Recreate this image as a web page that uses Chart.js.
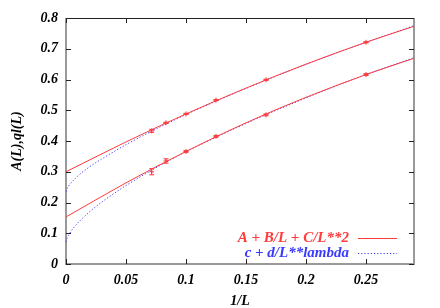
<!DOCTYPE html>
<html><head><meta charset="utf-8">
<script src="https://cdn.jsdelivr.net/npm/chart.js@4/dist/chart.umd.min.js"></script>
<style>html,body{margin:0;padding:0;background:#fff}#wrap{width:440px;height:308px}</style>
</head><body><div id="wrap"><canvas id="c" width="440" height="308"></canvas></div>
<script>
// ---- data ----
const xTickValues = [0, 0.05, 0.1, 0.15, 0.2, 0.25];
const xTickLabels = ['0', '0.05', '0.1', '0.15', '0.2', '0.25'];
const yTickValues = [0, 0.1, 0.2, 0.3, 0.4, 0.5, 0.6, 0.7, 0.8];
const yTickLabels = ['0', '0.1', '0.2', '0.3', '0.4', '0.5', '0.6', '0.7', '0.8'];

const invL = [0.25, 0.1667, 0.125, 0.1, 0.0833, 0.0714];
const upperA = [0.721, 0.599, 0.533, 0.488, 0.459, 0.433];
const upperErr = [0.002, 0.002, 0.002, 0.002, 0.002, 0.005];
const lowerQ = [0.616, 0.485, 0.415, 0.366, 0.335, 0.300];
const lowerErr = [0.003, 0.003, 0.003, 0.003, 0.007, 0.010];

const fitX = [0, 0.05, 0.1, 0.15, 0.2, 0.25, 0.29];
const fitUpper = [0.300, 0.397, 0.488, 0.572, 0.650, 0.721, 0.773];
const fitLower = [0.153, 0.264, 0.366, 0.459, 0.542, 0.616, 0.669];

const powX = [0, 0.001, 0.003, 0.006, 0.01, 0.02, 0.03, 0.05, 0.075, 0.1, 0.15, 0.2, 0.25, 0.29];
const powUpper = [0.235, 0.246, 0.258, 0.271, 0.287, 0.317, 0.342, 0.388, 0.439, 0.486, 0.571, 0.649, 0.721, 0.775];
const powLower = [0.072, 0.085, 0.099, 0.116, 0.134, 0.171, 0.202, 0.255, 0.313, 0.365, 0.457, 0.540, 0.616, 0.671];

const legendLabels = ['A + B/L + C/L**2', 'c + d/L**lambda'];
// -------------------------------------

const zip = (xs, ys) => xs.map((x, i) => ({x: x, y: ys[i]}));
const FAMILY = "'Liberation Serif','DejaVu Serif',serif";
const FONT = {family: FAMILY, size: 14, weight: 'bold', style: 'italic'};
const RED = '#ff3c3c';
const BLUE = '#3a3aff';

const fitStyle = {type: 'line', borderColor: RED, borderWidth: 1, pointRadius: 0, fill: false, cubicInterpolationMode: 'monotone'};
const powStyle = {type: 'line', borderColor: BLUE, borderWidth: 1, borderDash: [1.2, 2], pointRadius: 0, fill: false, cubicInterpolationMode: 'monotone', clip: 2};
const ptStyle = {type: 'scatter', borderColor: RED, backgroundColor: RED, pointStyle: 'cross', pointRadius: 2.5, borderWidth: 1, showLine: false};

const framePlugin = {
  id: 'frame',
  beforeDatasetsDraw(chart) {
    const {ctx, chartArea: a, scales: {x, y}} = chart;
    ctx.save();
    ctx.strokeStyle = '#999';
    ctx.lineWidth = 2;
    ctx.beginPath();
    ctx.moveTo(a.left, a.top); ctx.lineTo(a.left, a.bottom); ctx.lineTo(a.right, a.bottom); ctx.lineTo(a.right, a.top);
    ctx.stroke();
    ctx.strokeStyle = '#222';
    ctx.lineWidth = 1;
    ctx.beginPath();
    ctx.moveTo(a.left, Math.round(a.top) + 0.5); ctx.lineTo(a.right, Math.round(a.top) + 0.5);
    xTickValues.forEach(v => {
      const px = Math.round(x.getPixelForValue(v)) + 0.5;
      ctx.moveTo(px, a.bottom); ctx.lineTo(px, a.bottom - 5);
      ctx.moveTo(px, a.top); ctx.lineTo(px, a.top + 5);
    });
    yTickValues.forEach(v => {
      const py = Math.round(y.getPixelForValue(v)) + 0.5;
      ctx.moveTo(a.left, py); ctx.lineTo(a.left + 5, py);
      ctx.moveTo(a.right, py); ctx.lineTo(a.right - 5, py);
    });
    ctx.stroke();
    ctx.restore();
  },
  afterDraw(chart) {
    const {ctx} = chart;
    ctx.save();
    ctx.font = 'italic bold 15px ' + FAMILY;
    ctx.textAlign = 'right';
    ctx.textBaseline = 'middle';
    const rows = [{t: legendLabels[0], c: RED, dash: []}, {t: legendLabels[1], c: BLUE, dash: [1.2, 2]}];
    rows.forEach((r, i) => {
      const ly = 238 + i * 15;
      ctx.fillStyle = r.c;
      ctx.fillText(r.t, 349, ly);
      ctx.strokeStyle = r.c;
      ctx.lineWidth = 1;
      ctx.setLineDash(r.dash);
      ctx.beginPath();
      ctx.moveTo(358, ly + 0.5); ctx.lineTo(397, ly + 0.5);
      ctx.stroke();
    });
    ctx.restore();
  }
};

const errPlugin = {
  id: 'errbars',
  afterDatasetsDraw(chart) {
    const {ctx, scales: {x, y}} = chart;
    ctx.save();
    ctx.strokeStyle = RED;
    ctx.lineWidth = 1;
    chart.data.datasets.forEach(ds => {
      if (!ds.errors) return;
      ds.data.forEach((p, i) => {
        const px = x.getPixelForValue(p.x);
        const y1 = y.getPixelForValue(p.y - ds.errors[i]);
        const y2 = y.getPixelForValue(p.y + ds.errors[i]);
        ctx.beginPath();
        ctx.moveTo(px, y1); ctx.lineTo(px, y2);
        ctx.moveTo(px - 2.5, y1); ctx.lineTo(px + 2.5, y1);
        ctx.moveTo(px - 2.5, y2); ctx.lineTo(px + 2.5, y2);
        ctx.stroke();
      });
    });
    ctx.restore();
  }
};

new Chart(document.getElementById('c'), {
  data: {
    datasets: [
      Object.assign({label: legendLabels[0], data: zip(fitX, fitUpper)}, fitStyle),
      Object.assign({label: legendLabels[0] + ' (q)', data: zip(fitX, fitLower)}, fitStyle),
      Object.assign({label: legendLabels[1], data: zip(powX, powUpper)}, powStyle),
      Object.assign({label: legendLabels[1] + ' (q)', data: zip(powX, powLower)}, powStyle),
      Object.assign({label: 'A(L)', data: zip(invL, upperA), errors: upperErr}, ptStyle),
      Object.assign({label: 'ql(L)', data: zip(invL, lowerQ), errors: lowerErr}, ptStyle)
    ]
  },
  options: {
    responsive: false,
    animation: false,
    devicePixelRatio: 1,
    layout: {padding: {top: 18, right: 26, left: 0, bottom: 0}},
    plugins: {legend: {display: false}, tooltip: {enabled: false}},
    scales: {
      x: {
        type: 'linear', position: 'bottom', min: 0, max: 0.29,
        afterBuildTicks: s => { s.ticks = xTickValues.map(v => ({value: v})); },
        afterFit: s => { s.height = 44; },
        grid: {display: false, drawTicks: false},
        border: {display: false},
        ticks: {font: FONT, color: '#000', padding: 8, maxRotation: 0,
          callback: (v) => { const i = xTickValues.indexOf(v); return i >= 0 ? xTickLabels[i] : ''; }},
        title: {display: true, text: '1/L', font: FONT, color: '#000', padding: {top: 0, bottom: -2}}
      },
      y: {
        type: 'linear', position: 'left', min: 0, max: 0.8,
        afterBuildTicks: s => { s.ticks = yTickValues.map(v => ({value: v})); },
        afterFit: s => { s.width = 66; },
        grid: {display: false, drawTicks: false},
        border: {display: false},
        ticks: {font: FONT, color: '#000', padding: 8,
          callback: (v) => { const i = yTickValues.indexOf(v); return i >= 0 ? yTickLabels[i] : ''; }},
        title: {display: true, text: 'A(L),ql(L)', font: FONT, color: '#000', padding: {top: 9, bottom: 0}}
      }
    }
  },
  plugins: [framePlugin, errPlugin]
});
</script>
</body></html>
